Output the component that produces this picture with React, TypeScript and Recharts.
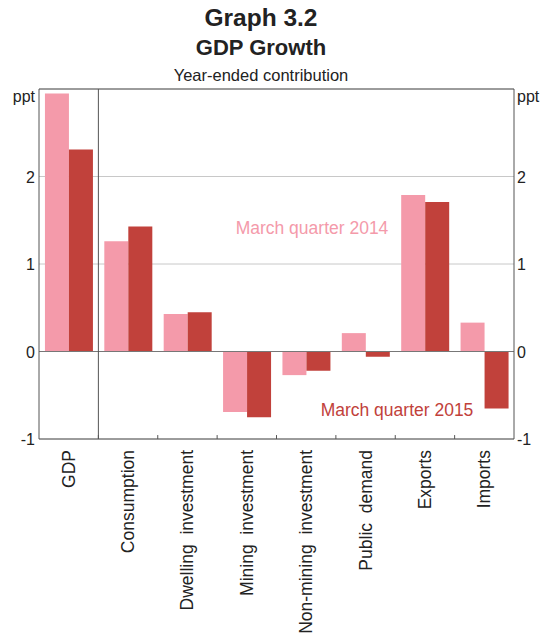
import { BarChart, Bar, XAxis, YAxis, CartesianGrid, ReferenceLine } from 'recharts';

// Year-ended contribution to GDP growth, ppt
const categories = [
  'GDP',
  'Consumption',
  'Dwelling  investment',
  'Mining  investment',
  'Non-mining  investment',
  'Public  demand',
  'Exports',
  'Imports',
];
const march2014 = [2.95, 1.26, 0.43, -0.69, -0.27, 0.21, 1.79, 0.33];
const march2015 = [2.31, 1.43, 0.45, -0.75, -0.22, -0.06, 1.71, -0.65];
const yTicks = [-1, 0, 1, 2, 3];

const data = categories.map((name, i) => ({ name, q2014: march2014[i], q2015: march2015[i] }));

const PINK = '#F49AAA';
const RED = '#C1413B';
const AXIS = '#555555';
const FONT = 'Arial, "Liberation Sans", sans-serif';

const CategoryTick = (props: any) => {
  const { x, y, payload } = props;
  return (
    <text
      x={x}
      y={y}
      transform={`rotate(-90 ${x} ${y})`}
      textAnchor="end"
      dx={-11}
      dy={6}
      fontSize={17.5}
      fontFamily={FONT}
      fill="#222"
      style={{ whiteSpace: 'pre' }}
    >
      {payload.value}
    </text>
  );
};

const ValueTick = (props: any) => {
  const { x, y, payload, side } = props;
  const isTop = payload.value === 3;
  return (
    <text
      x={side === 'left' ? x - 1 : x + 1}
      y={y}
      dy={isTop ? 13 : 6}
      textAnchor={side === 'left' ? 'end' : 'start'}
      fontSize={16}
      fontFamily={FONT}
      fill="#222"
    >
      {isTop ? 'ppt' : payload.value}
    </text>
  );
};

const GdpGrowthChart = () => {
  return (
    <div style={{ position: 'absolute', left: 0, top: 0, width: 554, height: 636, background: '#fff', fontFamily: FONT }}>
      <div style={{ position: 'absolute', left: 0, width: 522, top: 3, textAlign: 'center', fontSize: 24.5, fontWeight: 'bold', color: '#222', lineHeight: '30px' }}>
        Graph 3.2
      </div>
      <div style={{ position: 'absolute', left: 0, width: 522, top: 34, textAlign: 'center', fontSize: 22, fontWeight: 'bold', color: '#222', lineHeight: '28px' }}>
        GDP Growth
      </div>
      <div style={{ position: 'absolute', left: 0, width: 522, top: 65, textAlign: 'center', fontSize: 16.5, color: '#222', lineHeight: '20px' }}>
        Year-ended contribution
      </div>

      <div style={{ position: 'absolute', left: 0, top: 0 }}>
        <BarChart
          width={554}
          height={636}
          data={data}
          margin={{ top: 89, right: 10, left: 9, bottom: 0 }}
          barCategoryGap="10%"
          barGap={0}
        >
          <CartesianGrid yAxisId="left" vertical={false} stroke="#c8c8c8" />
          <XAxis
            dataKey="name"
            interval={0}
            height={197}
            tickLine={false}
            tickSize={0}
            tickMargin={0}
            axisLine={{ stroke: AXIS }}
            tick={<CategoryTick />}
          />
          <YAxis
            yAxisId="left"
            orientation="left"
            width={30}
            domain={[-1, 3]}
            ticks={yTicks}
            tickLine={false}
            tickSize={0}
            tickMargin={3}
            axisLine={{ stroke: AXIS }}
            tick={(p: any) => <ValueTick {...p} side="left" />}
          />
          <YAxis
            yAxisId="right"
            orientation="right"
            width={30}
            domain={[-1, 3]}
            ticks={yTicks}
            tickLine={false}
            tickSize={0}
            tickMargin={2}
            axisLine={{ stroke: AXIS }}
            tick={(p: any) => <ValueTick {...p} side="right" />}
          />
          <Bar yAxisId="left" dataKey="q2014" fill={PINK} isAnimationActive={false} />
          <Bar yAxisId="right" dataKey="q2015" fill={RED} isAnimationActive={false} />
          <ReferenceLine yAxisId="left" y={0} stroke="#777" />
          <ReferenceLine yAxisId="left" y={3} stroke={AXIS} />
          <ReferenceLine yAxisId="left" x="GDP" position="end" stroke={AXIS} />
          {categories.slice(0, -1).map((c) => (
            <ReferenceLine
              key={c}
              yAxisId="left"
              position="end"
              stroke={AXIS}
              segment={[
                { x: c, y: -1 },
                { x: c, y: -0.955 },
              ]}
            />
          ))}
        </BarChart>
      </div>

      <div style={{ position: 'absolute', left: 212, width: 200, top: 217, textAlign: 'center', fontSize: 17.5, color: PINK, lineHeight: '22px' }}>
        March quarter 2014
      </div>
      <div style={{ position: 'absolute', left: 297, width: 200, top: 399, textAlign: 'center', fontSize: 17.5, color: RED, lineHeight: '22px' }}>
        March quarter 2015
      </div>
    </div>
  );
};

export default function App() {
  return <GdpGrowthChart />;
}
